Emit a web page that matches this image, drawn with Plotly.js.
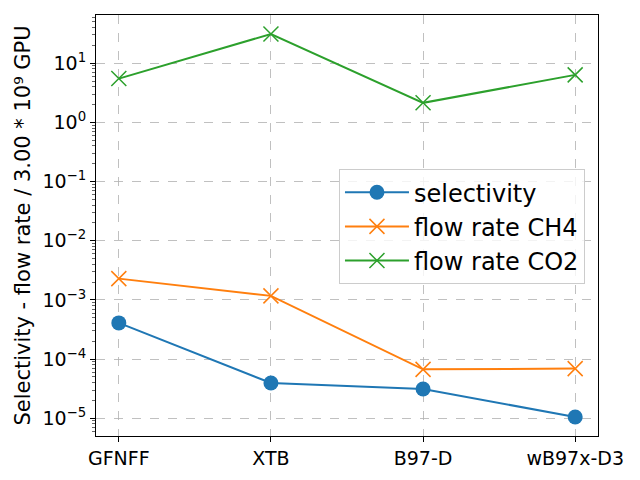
<!DOCTYPE html>
<html>
<head>
<meta charset="utf-8">
<script src="https://cdn.plot.ly/plotly-3.0.1.min.js"></script>
<style>html,body{margin:0;padding:0;background:#fff}#chart{width:640px;height:480px}</style>
</head>
<body>
<div id="chart"></div>
<script>
const methods = ["GFNFF", "XTB", "B97-D", "wB97x-D3"];
const selectivity = [4.09e-4, 3.94e-5, 3.12e-5, 1.05e-5];
const flowCH4 = [2.29e-3, 1.17e-3, 6.7e-5, 6.9e-5];
const flowCO2 = [5.5, 31.2, 2.14, 6.35];
const seriesNames = ["selectivity", "flow rate CH4", "flow rate CO2"];
const yTickVals = [1e-5, 1e-4, 1e-3, 1e-2, 1e-1, 1, 10];
const yTickText = ["10<sup>\u22125</sup>", "10<sup>\u22124</sup>", "10<sup>\u22123</sup>", "10<sup>\u22122</sup>", "10<sup>\u22121</sup>", "10<sup>0</sup>", "10<sup>1</sup>"];
const yTitle = "Selectivity - flow rate / 3.00 * 10\u2079 GPU";

const FONT = "DejaVu Sans, sans-serif";
const traces = [
  {x: methods, y: selectivity, name: seriesNames[0], mode: "lines+markers", legendgroup: "a",
   line: {color: "#1f77b4", width: 2}, marker: {symbol: "circle", size: 15, color: "#1f77b4"}},
  {x: methods, y: flowCH4, name: seriesNames[1], mode: "lines+markers", legendgroup: "b",
   line: {color: "#ff7f0e", width: 2}, marker: {symbol: "x-thin-open", size: 15, color: "#ff7f0e", line: {color: "#ff7f0e", width: 1.5}}},
  {x: methods, y: flowCO2, name: seriesNames[2], mode: "lines+markers", legendgroup: "c",
   line: {color: "#2ca02c", width: 2}, marker: {symbol: "x-thin-open", size: 15, color: "#2ca02c", line: {color: "#2ca02c", width: 1.5}}}
];

const layout = {
  width: 640, height: 480,
  margin: {l: 96, r: 42, t: 15, b: 44, pad: 0},
  paper_bgcolor: "#fff", plot_bgcolor: "#fff",
  font: {family: FONT, size: 19, color: "#000"},
  showlegend: true,
  legend: {x: 0.484, y: 0.634, xanchor: "left", yanchor: "top",
    bgcolor: "rgba(255,255,255,0.8)", bordercolor: "#cccccc", borderwidth: 1,
    font: {family: FONT, size: 24, color: "#000"}, itemwidth: 64, tracegroupgap: 0},
  xaxis: {type: "category", range: [-0.15, 3.15], showline: true, mirror: true, linecolor: "#000", linewidth: 1,
    ticks: "outside", ticklen: 5, tickwidth: 1, tickcolor: "#000",
    showgrid: true, gridcolor: "#b0b0b0", gridwidth: 0.8, griddash: "dash", zeroline: false,
    tickfont: {family: FONT, size: 19, color: "#000"}},
  yaxis: {type: "log", range: [-5.3, 1.815], showline: true, mirror: true, linecolor: "#000", linewidth: 1,
    ticks: "outside", ticklen: 5, tickwidth: 1, tickcolor: "#000",
    tickvals: yTickVals, ticktext: yTickText,
    showgrid: true, gridcolor: "#b0b0b0", gridwidth: 0.8, griddash: "dash", zeroline: false,
    minor: {dtick: "D1", ticks: "outside", ticklen: 3, tickwidth: 0.6, tickcolor: "#000", showgrid: false},
    tickfont: {family: FONT, size: 19, color: "#000"},
    title: {text: yTitle, font: {family: FONT, size: 21, color: "#000"}, standoff: 6}}
};

Plotly.newPlot("chart", traces, layout, {staticPlot: true, displayModeBar: false});
</script>
</body>
</html>
